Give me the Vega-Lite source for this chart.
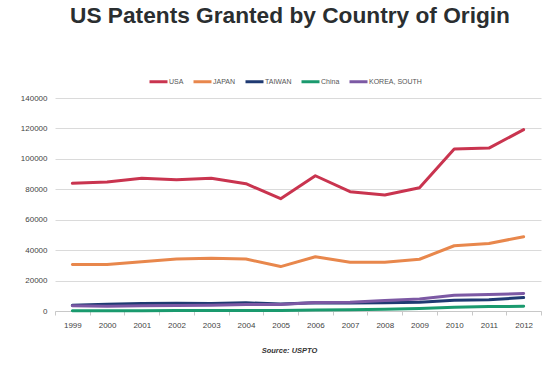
{
  "$schema": "https://vega.github.io/schema/vega-lite/v6.json",
  "width": 486,
  "height": 213,
  "autosize": {"type": "none"},
  "padding": {"left": 55, "top": 98, "right": 13, "bottom": 54},
  "background": "white",
  "title": {
    "text": "US Patents Granted by Country of Origin",
    "font": "Liberation Sans",
    "fontSize": 22.7,
    "fontWeight": "bold",
    "color": "#2a2e30",
    "anchor": "middle",
    "dx": -8,
    "offset": 43
  },
  "data": {
    "values": [
      {"year": "1999", "country": "USA", "patents": 83900},
      {"year": "2000", "country": "USA", "patents": 84800},
      {"year": "2001", "country": "USA", "patents": 87200},
      {"year": "2002", "country": "USA", "patents": 86300},
      {"year": "2003", "country": "USA", "patents": 87200},
      {"year": "2004", "country": "USA", "patents": 83700},
      {"year": "2005", "country": "USA", "patents": 73800},
      {"year": "2006", "country": "USA", "patents": 88900},
      {"year": "2007", "country": "USA", "patents": 78400},
      {"year": "2008", "country": "USA", "patents": 76300},
      {"year": "2009", "country": "USA", "patents": 81000},
      {"year": "2010", "country": "USA", "patents": 106500},
      {"year": "2011", "country": "USA", "patents": 107100},
      {"year": "2012", "country": "USA", "patents": 119200},
      {"year": "1999", "country": "JAPAN", "patents": 30500},
      {"year": "2000", "country": "JAPAN", "patents": 30600},
      {"year": "2001", "country": "JAPAN", "patents": 32400},
      {"year": "2002", "country": "JAPAN", "patents": 34200},
      {"year": "2003", "country": "JAPAN", "patents": 34600},
      {"year": "2004", "country": "JAPAN", "patents": 34200},
      {"year": "2005", "country": "JAPAN", "patents": 29200},
      {"year": "2006", "country": "JAPAN", "patents": 35700},
      {"year": "2007", "country": "JAPAN", "patents": 32100},
      {"year": "2008", "country": "JAPAN", "patents": 32100},
      {"year": "2009", "country": "JAPAN", "patents": 34000},
      {"year": "2010", "country": "JAPAN", "patents": 42900},
      {"year": "2011", "country": "JAPAN", "patents": 44400},
      {"year": "2012", "country": "JAPAN", "patents": 48800},
      {"year": "1999", "country": "TAIWAN", "patents": 3700},
      {"year": "2000", "country": "TAIWAN", "patents": 4500},
      {"year": "2001", "country": "TAIWAN", "patents": 5000},
      {"year": "2002", "country": "TAIWAN", "patents": 5100},
      {"year": "2003", "country": "TAIWAN", "patents": 4900},
      {"year": "2004", "country": "TAIWAN", "patents": 5400},
      {"year": "2005", "country": "TAIWAN", "patents": 4600},
      {"year": "2006", "country": "TAIWAN", "patents": 5400},
      {"year": "2007", "country": "TAIWAN", "patents": 5200},
      {"year": "2008", "country": "TAIWAN", "patents": 5400},
      {"year": "2009", "country": "TAIWAN", "patents": 5700},
      {"year": "2010", "country": "TAIWAN", "patents": 7000},
      {"year": "2011", "country": "TAIWAN", "patents": 7400},
      {"year": "2012", "country": "TAIWAN", "patents": 8800},
      {"year": "1999", "country": "China", "patents": 90},
      {"year": "2000", "country": "China", "patents": 120},
      {"year": "2001", "country": "China", "patents": 190},
      {"year": "2002", "country": "China", "patents": 290},
      {"year": "2003", "country": "China", "patents": 300},
      {"year": "2004", "country": "China", "patents": 400},
      {"year": "2005", "country": "China", "patents": 400},
      {"year": "2006", "country": "China", "patents": 650},
      {"year": "2007", "country": "China", "patents": 770},
      {"year": "2008", "country": "China", "patents": 1200},
      {"year": "2009", "country": "China", "patents": 1600},
      {"year": "2010", "country": "China", "patents": 2500},
      {"year": "2011", "country": "China", "patents": 2900},
      {"year": "2012", "country": "China", "patents": 3100},
      {"year": "1999", "country": "KOREA, SOUTH", "patents": 3400},
      {"year": "2000", "country": "KOREA, SOUTH", "patents": 3200},
      {"year": "2001", "country": "KOREA, SOUTH", "patents": 3400},
      {"year": "2002", "country": "KOREA, SOUTH", "patents": 3600},
      {"year": "2003", "country": "KOREA, SOUTH", "patents": 3800},
      {"year": "2004", "country": "KOREA, SOUTH", "patents": 4200},
      {"year": "2005", "country": "KOREA, SOUTH", "patents": 4300},
      {"year": "2006", "country": "KOREA, SOUTH", "patents": 5600},
      {"year": "2007", "country": "KOREA, SOUTH", "patents": 5800},
      {"year": "2008", "country": "KOREA, SOUTH", "patents": 6900},
      {"year": "2009", "country": "KOREA, SOUTH", "patents": 7900},
      {"year": "2010", "country": "KOREA, SOUTH", "patents": 10300},
      {"year": "2011", "country": "KOREA, SOUTH", "patents": 10800},
      {"year": "2012", "country": "KOREA, SOUTH", "patents": 11500}
    ]
  },
  "mark": {"type": "line", "strokeWidth": 3, "strokeCap": "round", "strokeJoin": "round"},
  "encoding": {
    "x": {
      "field": "year",
      "type": "ordinal",
      "scale": {"type": "band", "paddingInner": 0, "paddingOuter": 0},
      "axis": {
        "title": "Source: USPTO",
        "titleFont": "Liberation Sans",
        "titleFontSize": 7.5,
        "titleFontWeight": "bold",
        "titleFontStyle": "italic",
        "titleColor": "#333",
        "titlePadding": 17,
        "titleX": 234,
        "labelAngle": 0,
        "labelFont": "Liberation Sans",
        "labelFontSize": 8,
        "labelColor": "#444",
        "labelPadding": 6,
        "tickBand": "extent",
        "tickSize": 4,
        "tickColor": "#c8c8c8",
        "domainColor": "#c8c8c8",
        "grid": false
      }
    },
    "y": {
      "field": "patents",
      "type": "quantitative",
      "scale": {"domain": [0, 140000], "nice": false},
      "axis": {
        "title": null,
        "values": [0, 20000, 40000, 60000, 80000, 100000, 120000, 140000],
        "format": "d",
        "labelFont": "Liberation Sans",
        "labelFontSize": 8,
        "labelColor": "#444",
        "labelPadding": 8,
        "domain": false,
        "ticks": false,
        "gridColor": "#dadada",
        "gridWidth": 1
      }
    },
    "color": {
      "field": "country",
      "type": "nominal",
      "sort": ["USA", "JAPAN", "TAIWAN", "China", "KOREA, SOUTH"],
      "scale": {
        "domain": ["USA", "JAPAN", "TAIWAN", "China", "KOREA, SOUTH"],
        "range": ["#c9344f", "#e8874c", "#1f3a72", "#1a9a6e", "#7c59a4"]
      },
      "legend": {
        "title": null,
        "orient": "none",
        "direction": "horizontal",
        "legendX": 93,
        "legendY": -27,
        "symbolType": "stroke",
        "symbolSize": 324,
        "symbolStrokeWidth": 3,
        "labelFont": "Liberation Sans",
        "labelFontSize": 7,
        "labelColor": "#555",
        "labelOffset": 0,
        "columnPadding": 3
      }
    },
    "order": {"field": "year"}
  },
  "config": {
    "view": {"stroke": null}
  }
}
